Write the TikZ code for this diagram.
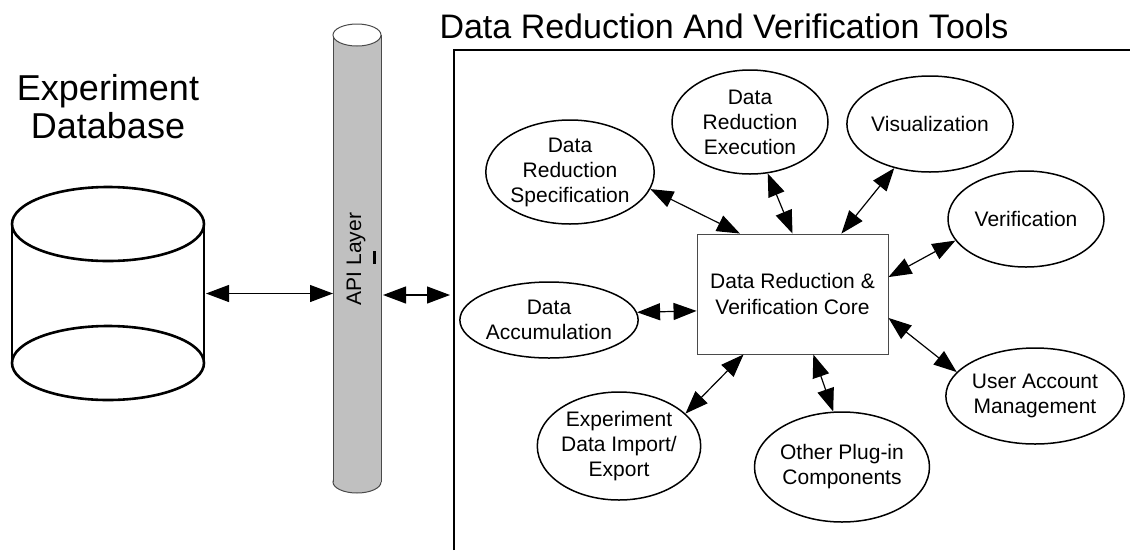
\documentclass[tikz,border=0pt]{standalone}
\usepackage{fontspec}
\setmainfont{Liberation Sans}
\usetikzlibrary{arrows.meta,shapes.geometric,calc}
\definecolor{pipegray}{HTML}{C0C0C0}
\definecolor{pipeline}{HTML}{4A4A4A}
\begin{document}
\begin{tikzpicture}[x=1pt,y=-1pt,
  bubble/.style={ellipse,draw,line width=1.5pt,inner sep=0pt,minimum width=156pt,
    align=center,font=\fontsize{21}{25}\selectfont},
  corebox/.style={rectangle,draw=pipeline,line width=0.9pt,inner sep=0pt,
    minimum width=191pt,minimum height=120pt,align=center,font=\fontsize{21}{26}\selectfont},
  holder/.style={inner sep=0pt,outer sep=0pt},
  link/.style={{Triangle[length=23pt,width=17pt]}-{Triangle[length=23pt,width=17pt]},line width=1.2pt},
  cyl/.style={line width=2.6pt},
]
\useasboundingbox (0,0) rectangle (1130,550);

% ---- experiment database (cylinder) ----
\node[holder,minimum width=192pt,minimum height=139pt] (db) at (108,293.5) {};
\draw[cyl,fill=white] (108,224) ellipse [x radius=96, y radius=37];
\draw[cyl] (12,224) -- (12,363);
\draw[cyl] (204,224) -- (204,363);
\draw[cyl,fill=white] (108,363) ellipse [x radius=96, y radius=37];
\node[anchor=base,align=center,font=\fontsize{36}{38}\selectfont] (dbtitle) at (108,138) {Experiment\\Database};

% ---- API layer pipe ----
\node[holder,minimum width=48pt,minimum height=447pt] (api) at (357,258.5) {};
\filldraw[fill=pipegray,draw=pipeline,line width=1pt] (357,482) ellipse [x radius=24, y radius=11];
\fill[pipegray] (333,35) rectangle (381,482);
\draw[pipeline,line width=1pt] (333,35) -- (333,482);
\draw[pipeline,line width=1pt] (381,35) -- (381,482);
\filldraw[fill=white,draw=pipeline,line width=1pt] (357,35) ellipse [x radius=24, y radius=11];
\node[rotate=90,font=\fontsize{21}{25}\selectfont] (apilabel) at (356,259) {API Layer};
\fill (372.5,251) rectangle (376,264);

% ---- tools frame ----
\node[holder,anchor=north west,minimum width=676pt,minimum height=500pt] (tools) at (454,50) {};
\draw[line width=2pt] (tools.south west) -- (tools.north west) -- (tools.north east);
\node[anchor=base west,font=\fontsize{34}{36}\selectfont] (toolstitle) at (436,38) {Data Reduction And Verification Tools};

% ---- core and plug-in components ----
\node[corebox] (core) at (792.5,294) {Data Reduction \&\\Verification Core};
\node[bubble,minimum height=104pt] (spec) at (570,172) {Data\\Reduction\\Specification};
\node[bubble,minimum height=104pt] (exec) at (750,122) {Data\\Reduction\\Execution};
\node[bubble,minimum height=96pt] (vis) at (930,124) {Visualization};
\node[bubble,minimum height=96pt] (verif) at (1026,219) {Verification};
\node[bubble,minimum height=76pt] (accum) at (549,320) {Data\\Accumulation};
\node[bubble,minimum height=108pt] (imp) at (619,446) {Experiment\\Data Import/\\Export};
\node[bubble,minimum height=110pt] (other) at (842,467) {Other Plug-in\\Components};
\node[bubble,minimum height=96pt] (user) at (1035,396) {User Account\\Management};

% ---- connectors ----
\draw[link,shorten <=2pt] (db.east) -- (db.east -| api.west);
\draw[link,shorten <=2pt,shorten >=4pt] ($(api.east)+(0,36.5)$) -- ($(api.east -| tools.west)+(0,36.5)$);
\draw[link] (spec.-12.5) -- (core.131.8);
\draw[link] (exec.-71) -- (core.90);
\draw[link] (vis.-129.4) -- (core.51.6);
\draw[link] (verif.197.7) -- (core.10.1);
\draw[link] (user.163.7) -- (core.-14.1);
\draw[link] (other.99) -- (core.-71.1);
\draw[link] (imp.26.6) -- (core.-129.5);
\draw[link] (accum.5.8) -- (core.190.7);
\end{tikzpicture}
\end{document}
